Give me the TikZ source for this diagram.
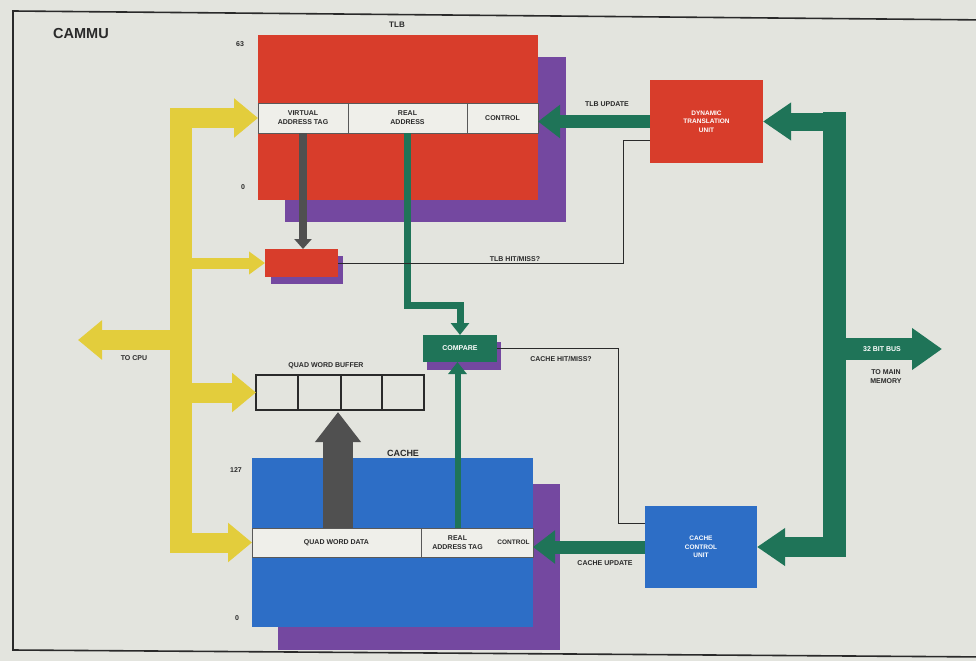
\documentclass[tikz,border=0pt]{standalone}
\usepackage{fontspec}
\setmainfont{Liberation Sans}
\usetikzlibrary{arrows.meta}
\definecolor{bg}{HTML}{E3E4DE}
\definecolor{tlbred}{HTML}{D83D2B}
\definecolor{shadowp}{HTML}{7448A0}
\definecolor{cacheblue}{HTML}{2D6EC6}
\definecolor{busgreen}{HTML}{1F7458}
\definecolor{busyellow}{HTML}{E3CD3C}
\definecolor{rowwhite}{HTML}{EFEFEA}
\definecolor{darkgrey}{HTML}{505050}
\definecolor{ink}{HTML}{2A2A2A}
\begin{document}
\begin{tikzpicture}[x=1pt,y=-1pt,
  box/.style={inner sep=0pt, outer sep=0pt, anchor=north west},
  lbl/.style={font=\fontsize{7}{9}\selectfont\bfseries, text=ink, align=center, inner sep=0pt},
  wlbl/.style={lbl, text=white},
  rowcell/.style={box, fill=rowwhite, lbl},
  ybus/.style={draw=busyellow, line width=20pt, -{Triangle[length=24pt,width=38pt]}},
  gbus/.style={draw=busgreen, line width=18pt, -{Triangle[length=28pt,width=36pt]}},
  gupd/.style={draw=busgreen, line width=13pt, -{Triangle[length=22pt,width=32pt]}},
  gline/.style={draw=busgreen, line width=7pt, line join=miter, -{Triangle[length=12pt,width=18pt]}},
  thinline/.style={draw=ink, line width=1pt},
  bufcell/.style={box, draw=ink, line width=1.1pt, minimum height=35pt}
]
\useasboundingbox (0,0) rectangle (976,661);
\fill[bg] (0,0) rectangle (976,661);
% frame
\draw[ink, line width=1.6pt] (990,20) -- (13,11) -- (13,650) -- (990,657);
\node[font=\fontsize{14.5}{16}\selectfont\bfseries, text=ink, inner sep=0pt] (title) at (81,34) {CAMMU};

% ---------- TLB ----------
\node[box, fill=shadowp, minimum width=281pt, minimum height=165pt] (tlbsh) at (285,57) {};
\node[box, fill=tlbred, minimum width=280pt, minimum height=165pt] (tlb) at (258,35) {};
\node[lbl, font=\fontsize{8}{9}\selectfont\bfseries] (tlbt) at (397,25) {TLB};
\node[lbl] (n63) at (240,44) {63};
\node[lbl] (n0a) at (243,187) {0};
\node[rowcell, minimum width=90pt, minimum height=30pt] (va) at (258,103) {VIRTUAL\\ADDRESS TAG};
\node[rowcell, minimum width=119pt, minimum height=30pt] (ra) at (348,103) {REAL\\ADDRESS};
\node[rowcell, minimum width=71pt, minimum height=30pt] (ctl) at (467,103) {CONTROL};
\draw[gray!70!black, line width=0.6pt] (va.north west) rectangle (ctl.south east);
\draw[gray!70!black, line width=0.6pt] (va.north east) -- (va.south east) (ra.north east) -- (ra.south east);

% ---------- Dynamic translation unit ----------
\node[box, fill=tlbred, minimum width=113pt, minimum height=83pt, wlbl, font=\fontsize{6.5}{8.5}\selectfont\bfseries] (dtu) at (650,80) {DYNAMIC\\TRANSLATION\\UNIT};

% ---------- register ----------
\node[box, fill=shadowp, minimum width=72pt, minimum height=28pt] (regsh) at (271,256) {};
\node[box, fill=tlbred, minimum width=73pt, minimum height=28pt] (reg) at (265,249) {};

% ---------- compare ----------
\node[box, fill=shadowp, minimum width=74pt, minimum height=28pt] (cmpsh) at (427,342) {};
\node[box, fill=busgreen, minimum width=74pt, minimum height=27pt, wlbl] (cmp) at (423,335) {COMPARE};

% ---------- quad word buffer ----------
\node[bufcell, minimum width=42pt] (b1) at (256,375) {};
\node[bufcell, minimum width=43pt] (b2) at (298,375) {};
\node[bufcell, minimum width=41pt] (b3) at (341,375) {};
\node[bufcell, minimum width=42pt] (b4) at (382,375) {};
\node[lbl] (qwb) at (326,366) {QUAD WORD BUFFER};

% ---------- cache ----------
\node[box, fill=shadowp, minimum width=282pt, minimum height=166pt] (cachesh) at (278,484) {};
\node[box, fill=cacheblue, minimum width=281pt, minimum height=169pt] (cache) at (252,458) {};
\node[lbl, font=\fontsize{9}{10}\selectfont\bfseries] (cachet) at (403,453) {CACHE};
\node[lbl] (n127) at (236,470) {127};
\node[lbl] (n0b) at (237,618) {0};
\node[rowcell, minimum width=169pt, minimum height=29pt] (qd) at (252,528) {QUAD WORD DATA};
\node[rowcell, minimum width=73pt, minimum height=29pt] (rat) at (421,528) {REAL\\ADDRESS TAG};
\node[rowcell, minimum width=39pt, minimum height=29pt, font=\fontsize{6.5}{8}\selectfont\bfseries] (cctl) at (494,528) {CONTROL};
\draw[gray!70!black, line width=0.6pt] (qd.north west) rectangle (cctl.south east);
\draw[gray!70!black, line width=0.6pt] (qd.north east) -- (qd.south east);

% ---------- cache control unit ----------
\node[box, fill=cacheblue, minimum width=112pt, minimum height=82pt, wlbl, font=\fontsize{6.5}{8.5}\selectfont\bfseries] (ccu) at (645,506) {CACHE\\CONTROL\\UNIT};

% ---------- yellow CPU bus ----------
\coordinate (ytop) at (181,108);
\coordinate (ybot) at (181,553);
\coordinate (y1) at (181,118);
\coordinate (y2) at (181,263);
\coordinate (y3) at (181,340);
\coordinate (y4) at (181,392.5);
\coordinate (y5) at (181,542.5);
\coordinate (cpu) at (78,340);
\draw[busyellow, line width=22pt] (ytop) -- (ybot);
\draw[ybus] (y1) -- (va.west);
\draw[ybus, line width=11pt, -{Triangle[length=16pt,width=22pt]}] (y2) -- (reg.west);
\draw[ybus] (y3) -- (cpu);
\draw[ybus] (y4) -- (b1.west);
\draw[ybus] (y5) -- (qd.west);
\node[lbl] (tocpu) at (134,358) {TO CPU};

% ---------- green memory bus ----------
\coordinate (gtop) at (834,112);
\coordinate (gbot) at (834,557);
\coordinate (g1) at (834,121.5);
\coordinate (g2) at (834,349);
\coordinate (g3) at (834,547);
\coordinate (mem) at (942,349);
\draw[busgreen, line width=23pt] (gtop) -- (gbot);
\draw[gbus] (g1) -- (dtu.east);
\draw[gbus, line width=20pt] (g3) -- (ccu.east |- g3);
\draw[gbus, line width=22pt, -{Triangle[length=30pt,width=40pt]}] (g2) -- (mem);
\node[wlbl] (busl) at (882,349) {32 BIT BUS};
\node[lbl] (tomem) at (886,377) {TO MAIN\\MEMORY};

% ---------- updates ----------
\draw[gupd] (dtu.west) -- (dtu.west -| tlb.east);
\node[lbl] (tlbu) at (607,104) {TLB UPDATE};
\draw[gupd] (ccu.west |- g3) -- (g3 -| cache.east);
\node[lbl] (cu) at (605,563) {CACHE UPDATE};

% ---------- address paths ----------
\coordinate (ral) at (460,305);
\draw[gline] (ra.south) |- (ral) -- (cmp.north);
\draw[gline, line width=6pt] (rat.north) -- (rat.north |- cmp.south);
\draw[draw=darkgrey, line width=8pt, -{Triangle[length=10pt,width=17pt]}] (va.south) -- (va.south |- reg.north);
\draw[draw=darkgrey, line width=30pt, -{Triangle[length=30pt,width=44pt]}] (qd.north -| 338,0) -- (338,412);

% ---------- hit/miss lines ----------
\coordinate (h1) at (623,263);
\coordinate (h2) at (623,140);
\draw[thinline] (reg.east) -- (h1) -- (h2) -- (h2 -| dtu.west);
\node[lbl] (tlbhm) at (515,259) {TLB HIT/MISS?};
\coordinate (c1) at (618,348.5);
\coordinate (c2) at (618,523);
\draw[thinline] (cmp.east) -- (c1) -- (c2) -- (c2 -| ccu.west);
\node[lbl] (chm) at (561,359) {CACHE HIT/MISS?};
\end{tikzpicture}
\end{document}
